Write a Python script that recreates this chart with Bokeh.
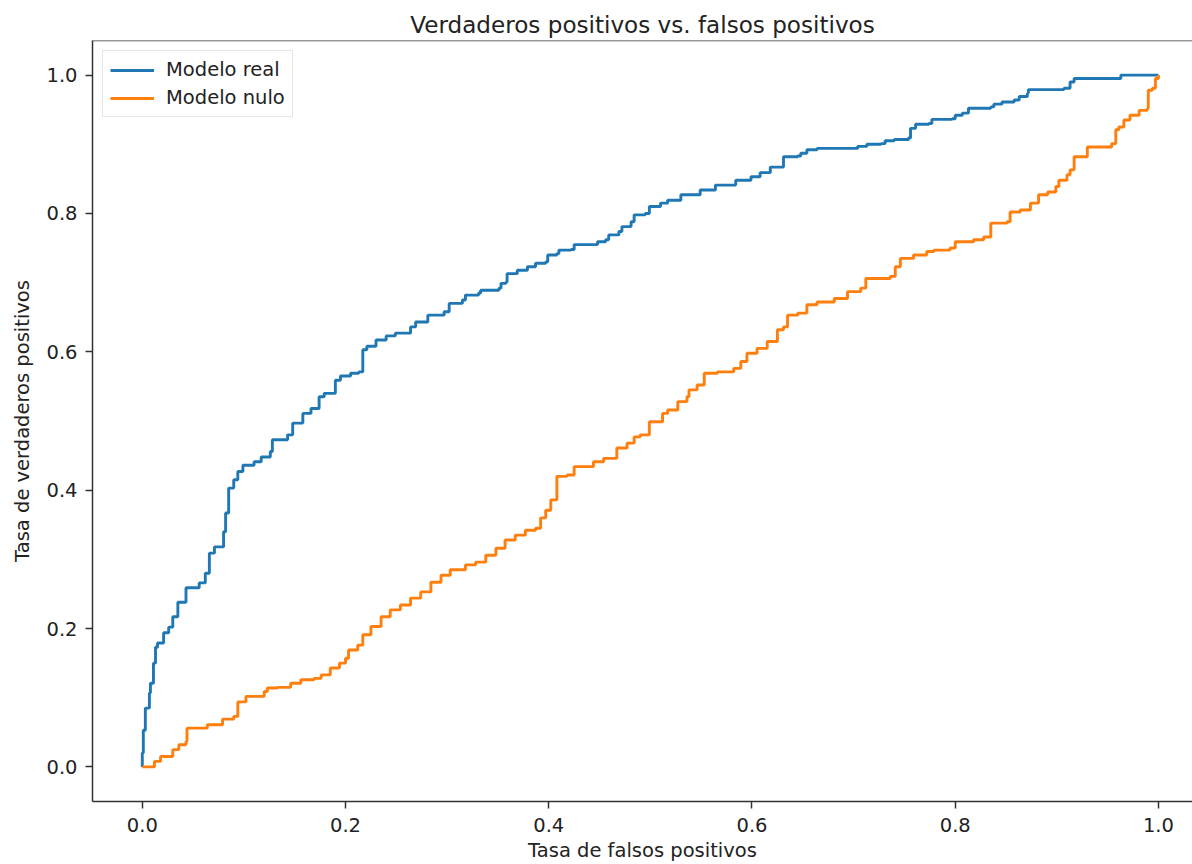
from bokeh.plotting import figure
from bokeh.models import Range1d, Span, PrintfTickFormatter
from bokeh.embed import file_html
from bokeh.resources import INLINE

# ---- data ----
title_text = "Verdaderos positivos vs. falsos positivos"
x_label = "Tasa de falsos positivos"
y_label = "Tasa de verdaderos positivos"
series_names = ["Modelo real", "Modelo nulo"]
x_ticks = [0.0, 0.2, 0.4, 0.6, 0.8, 1.0]
y_ticks = [0.0, 0.2, 0.4, 0.6, 0.8, 1.0]

real_fpr = [0.0, 0.0, 0.001, 0.003, 0.007, 0.008, 0.011, 0.013, 0.015, 0.021,
            0.026, 0.030, 0.035, 0.043, 0.056, 0.062, 0.066, 0.071, 0.080, 0.082,
            0.085, 0.090, 0.094, 0.099, 0.110, 0.117, 0.126, 0.128, 0.143, 0.148,
            0.158, 0.166, 0.174, 0.179, 0.190, 0.195, 0.205, 0.213, 0.217, 0.221,
            0.230, 0.240, 0.249, 0.264, 0.269, 0.281, 0.297, 0.302, 0.315, 0.318,
            0.331, 0.333, 0.351, 0.353, 0.358, 0.359, 0.369, 0.379, 0.387, 0.397,
            0.399, 0.408, 0.410, 0.422, 0.425, 0.444, 0.448, 0.456, 0.459, 0.469,
            0.472, 0.481, 0.484, 0.495, 0.499, 0.510, 0.517, 0.530, 0.549, 0.564,
            0.584, 0.599, 0.608, 0.618, 0.631, 0.645, 0.648, 0.654, 0.664, 0.700,
            0.704, 0.713, 0.727, 0.731, 0.740, 0.754, 0.756, 0.761, 0.774, 0.777,
            0.797, 0.800, 0.807, 0.813, 0.835, 0.838, 0.846, 0.858, 0.863, 0.871,
            0.872, 0.907, 0.913, 0.917, 0.961, 0.963, 1.0]
real_tpr = [0.0, 0.020, 0.053, 0.085, 0.107, 0.121, 0.150, 0.173, 0.179, 0.194,
            0.202, 0.217, 0.238, 0.259, 0.266, 0.280, 0.309, 0.318, 0.340, 0.367,
            0.403, 0.415, 0.427, 0.436, 0.441, 0.448, 0.456, 0.473, 0.480, 0.497,
            0.511, 0.518, 0.535, 0.540, 0.559, 0.565, 0.569, 0.571, 0.603, 0.608,
            0.617, 0.623, 0.627, 0.636, 0.643, 0.653, 0.658, 0.670, 0.675, 0.682,
            0.685, 0.689, 0.692, 0.699, 0.701, 0.713, 0.718, 0.723, 0.728, 0.730,
            0.740, 0.742, 0.747, 0.748, 0.755, 0.755, 0.759, 0.762, 0.769, 0.774,
            0.781, 0.788, 0.798, 0.800, 0.810, 0.815, 0.819, 0.827, 0.834, 0.841,
            0.848, 0.853, 0.859, 0.867, 0.882, 0.883, 0.887, 0.892, 0.894, 0.894,
            0.897, 0.900, 0.901, 0.905, 0.907, 0.909, 0.923, 0.929, 0.930, 0.936,
            0.937, 0.942, 0.945, 0.952, 0.954, 0.958, 0.961, 0.964, 0.969, 0.974,
            0.979, 0.981, 0.990, 0.995, 0.995, 1.0, 1.0]

null_fpr = [0.0, 0.008, 0.012, 0.018, 0.026, 0.030, 0.036, 0.043, 0.044, 0.061,
            0.064, 0.076, 0.079, 0.090, 0.094, 0.102, 0.117, 0.120, 0.123, 0.133,
            0.146, 0.156, 0.169, 0.176, 0.185, 0.194, 0.200, 0.203, 0.212, 0.217,
            0.225, 0.235, 0.244, 0.254, 0.264, 0.274, 0.284, 0.294, 0.303, 0.318,
            0.328, 0.338, 0.348, 0.357, 0.367, 0.377, 0.387, 0.392, 0.397, 0.402,
            0.408, 0.418, 0.425, 0.440, 0.444, 0.454, 0.467, 0.477, 0.484, 0.490,
            0.499, 0.507, 0.512, 0.517, 0.527, 0.536, 0.538, 0.546, 0.553, 0.566,
            0.582, 0.589, 0.595, 0.605, 0.615, 0.625, 0.631, 0.635, 0.645, 0.654,
            0.664, 0.681, 0.694, 0.707, 0.712, 0.736, 0.741, 0.746, 0.759, 0.772,
            0.779, 0.795, 0.800, 0.818, 0.828, 0.835, 0.851, 0.854, 0.864, 0.874,
            0.882, 0.891, 0.899, 0.902, 0.910, 0.913, 0.917, 0.925, 0.930, 0.943,
            0.954, 0.958, 0.961, 0.966, 0.972, 0.981, 0.989, 0.990, 0.994, 0.997,
            1.0]
null_tpr = [0.0, 0.0, 0.008, 0.015, 0.015, 0.025, 0.032, 0.037, 0.056, 0.056,
            0.061, 0.061, 0.069, 0.073, 0.094, 0.102, 0.102, 0.109, 0.114, 0.115,
            0.121, 0.126, 0.128, 0.133, 0.143, 0.150, 0.157, 0.169, 0.176, 0.191,
            0.203, 0.217, 0.227, 0.234, 0.244, 0.253, 0.267, 0.277, 0.285, 0.292,
            0.296, 0.306, 0.316, 0.328, 0.335, 0.342, 0.345, 0.360, 0.371, 0.386,
            0.420, 0.422, 0.434, 0.434, 0.441, 0.446, 0.461, 0.468, 0.477, 0.480,
            0.499, 0.499, 0.511, 0.516, 0.528, 0.535, 0.545, 0.552, 0.569, 0.571,
            0.576, 0.586, 0.598, 0.605, 0.615, 0.632, 0.636, 0.653, 0.656, 0.668,
            0.672, 0.677, 0.687, 0.692, 0.706, 0.709, 0.723, 0.735, 0.740, 0.745,
            0.747, 0.750, 0.759, 0.762, 0.766, 0.786, 0.788, 0.802, 0.805, 0.815,
            0.827, 0.831, 0.839, 0.848, 0.856, 0.863, 0.882, 0.882, 0.896, 0.896,
            0.901, 0.921, 0.925, 0.935, 0.942, 0.949, 0.952, 0.978, 0.981, 0.995,
            1.0]

FONT = "DejaVu Sans"
TEXT = "#222222"
SPINE = "#333333"

p = figure(width=1192, height=864, output_backend="svg", toolbar_location=None, tools="",
           x_range=Range1d(-0.049, 1.0335), y_range=Range1d(-0.05, 1.05),
           title=title_text, x_axis_label=x_label, y_axis_label=y_label,
           min_border_left=92, min_border_right=0, min_border_top=40, min_border_bottom=62)

r1 = p.step(real_fpr, real_tpr, mode="after", line_color="#1f77b4", line_width=2.9,
            legend_label=series_names[0])
r2 = p.step(null_fpr, null_tpr, mode="after", line_color="#ff7f0e", line_width=2.9,
            legend_label=series_names[1])

p.xgrid.visible = False
p.ygrid.visible = False
p.outline_line_color = None
p.background_fill_color = "white"
p.border_fill_color = "white"

p.add_layout(Span(location=1.05, dimension="width", line_color=SPINE, line_width=1.5))

p.xaxis.ticker = x_ticks
p.yaxis.ticker = y_ticks
p.axis.formatter = PrintfTickFormatter(format="%.1f")
p.axis.minor_tick_line_color = None
p.axis.major_tick_in = 0
p.axis.major_tick_out = 7
p.axis.major_tick_line_width = 1.5
p.axis.major_tick_line_color = SPINE
p.axis.axis_line_width = 1.5
p.axis.axis_line_color = SPINE
p.axis.major_label_text_font = FONT
p.axis.major_label_text_font_size = "19.5px"
p.axis.major_label_text_color = TEXT
p.axis.axis_label_text_font = FONT
p.axis.axis_label_text_font_size = "19.5px"
p.axis.axis_label_text_font_style = "normal"
p.axis.axis_label_text_color = TEXT
p.yaxis.major_label_standoff = 8
p.yaxis.axis_label_standoff = 9
p.xaxis.major_label_standoff = 9
p.xaxis.axis_label_standoff = 4

p.title.text_font = FONT
p.title.text_font_size = "23.1px"
p.title.text_font_style = "normal"
p.title.text_color = TEXT
p.title.align = "center"
p.title.standoff = 5

lg = p.legend[0]
lg.location = "top_left"
lg.margin = 10
lg.padding = 7
lg.spacing = 5
lg.glyph_width = 44
lg.glyph_height = 20
lg.label_standoff = 12
lg.label_text_font = FONT
lg.label_text_font_size = "19.5px"
lg.label_text_color = TEXT
lg.border_line_color = "#cccccc"
lg.border_line_width = 1.2
lg.background_fill_alpha = 0.8

open("out.html", "w").write(file_html(p, INLINE))
